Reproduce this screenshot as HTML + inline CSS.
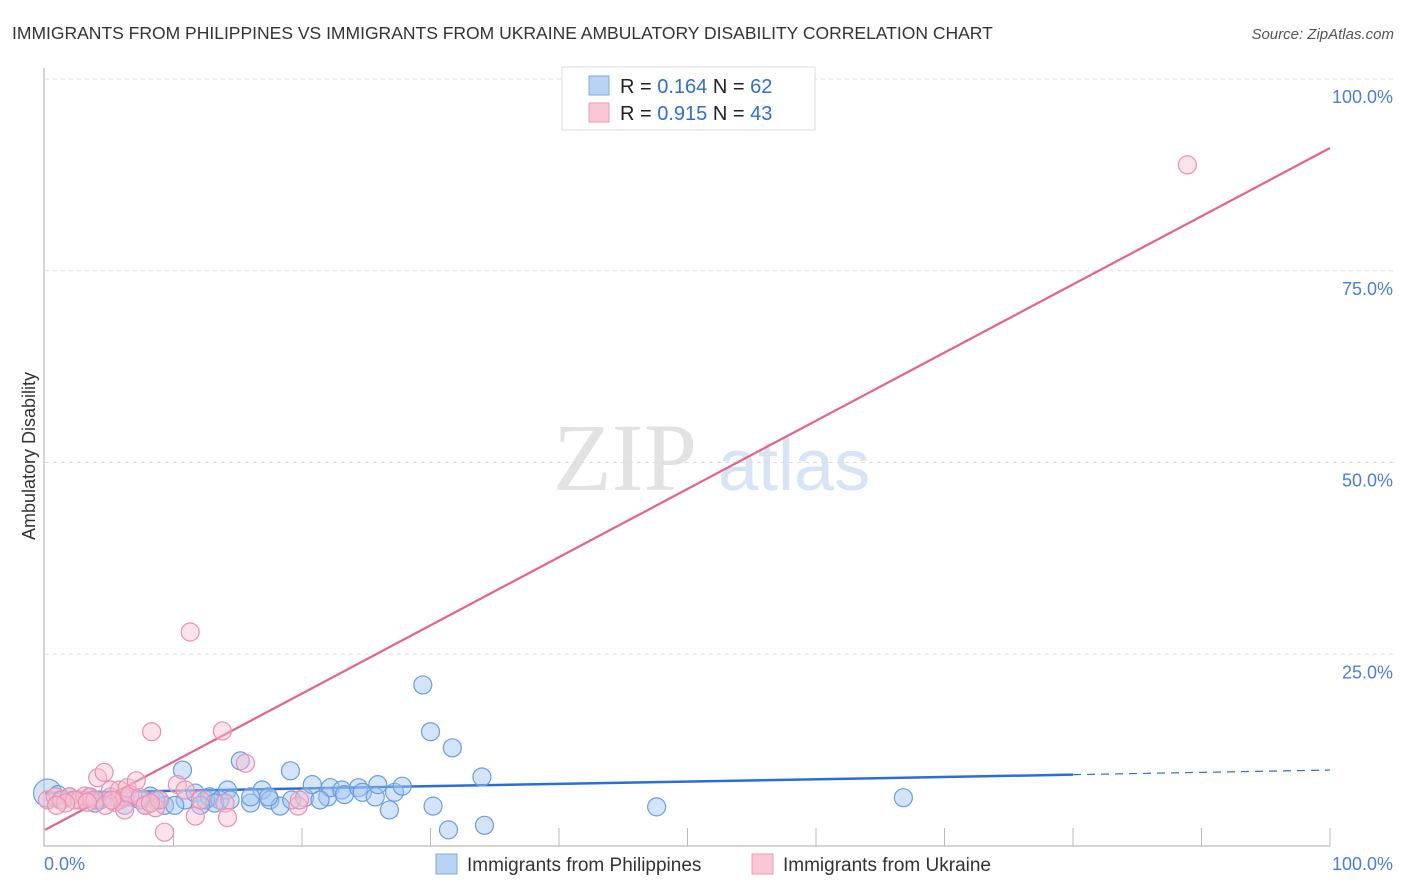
<!DOCTYPE html>
<html><head><meta charset="utf-8"><style>
body{margin:0;background:#fff;width:1406px;height:892px;overflow:hidden;font-family:"Liberation Sans",sans-serif}
svg{position:absolute;left:0;top:0}
</style></head><body>
<svg id="chart" width="1406" height="892">
<text x="12" y="39" font-size="17.5" fill="#333">IMMIGRANTS FROM PHILIPPINES VS IMMIGRANTS FROM UKRAINE AMBULATORY DISABILITY CORRELATION CHART</text>
<text x="1394" y="39" font-size="15" fill="#555" font-style="italic" text-anchor="end">Source: ZipAtlas.com</text>
<text x="35" y="456" font-size="18" fill="#333" text-anchor="middle" transform="rotate(-90 35 456)">Ambulatory Disability</text>
<g>
<text x="553" y="490" font-family="Liberation Serif,serif" font-size="96" fill="#e2e2e2">ZIP</text>
<text x="718" y="490" font-size="72" fill="#d6e4f5">atlas</text>
</g>
<g id="grid"></g><g id="axes"></g><g id="trend"></g><g id="pts"></g>
<g>
<rect x="562" y="67" width="253" height="63" fill="#fff" stroke="#ddd"/>
<rect x="589" y="76" width="20" height="19" fill="#b9d3f5" stroke="#7fa9e0"/>
<rect x="589" y="103" width="20" height="19" fill="#f9c7d6" stroke="#ef99b3"/>
<text x="620" y="93" font-size="20" fill="#222">R = <tspan fill="#2f6fd0">0.164</tspan>   N = <tspan fill="#2f6fd0">62</tspan></text>
<text x="620" y="120" font-size="20" fill="#222">R = <tspan fill="#2f6fd0">0.915</tspan>   N = <tspan fill="#2f6fd0">43</tspan></text>
</g>
<g>
<rect x="436" y="854" width="21" height="20" fill="#b9d3f5" stroke="#7fa9e0"/>
<text x="467" y="871" font-size="19" fill="#333">Immigrants from Philippines</text>
<rect x="752" y="854" width="21" height="20" fill="#f9c7d6" stroke="#ef99b3"/>
<text x="783" y="871" font-size="19" fill="#333">Immigrants from Ukraine</text>
</g>
</svg>
<script>
const blueX=[0.2,1.2,1.9,2.7,3.5,4.3,5.1,5.8,6.6,7.4,8.2,8.9,9.3,10.7,10.9,11.7,12.5,12.8,13.6,14.2,15.2,16.0,16.9,17.5,18.3,19.1,19.2,20.2,20.8,22.0,22.2,23.1,23.3,24.4,24.7,25.7,25.9,26.8,27.2,27.8,29.4,30.0,30.2,31.4,31.7,34.0,34.2,47.6,66.8,16.0,13.2,10.1,8.6,6.2,3.9,7.8,12.1,17.4,21.4,14.4,1.0];
const blueY=[6.9,6.0,6.4,6.0,6.3,6.0,6.4,6.0,6.4,6.0,6.5,6.0,5.3,9.9,6.0,6.9,6.0,6.4,6.0,7.3,11.1,5.6,7.3,6.0,5.2,9.8,6.0,6.3,8.0,6.4,7.6,7.3,6.7,7.6,7.0,6.4,8.0,4.7,7.0,7.8,21.0,14.9,5.2,2.1,12.8,9.0,2.7,5.1,6.3,6.4,5.6,5.3,6.0,5.3,5.6,5.3,5.3,6.4,6.0,6.0,6.7];
const pinkX=[0.2,0.8,1.3,1.9,2.7,3.1,3.5,4.1,4.6,5.1,5.4,5.8,6.2,6.4,6.6,7.1,7.4,7.8,8.3,8.6,8.9,9.3,10.3,11.3,10.9,11.7,12.1,13.8,14.0,14.2,15.6,19.7,19.8,88.9,2.3,1.6,3.9,4.7,6.2,5.2,0.9,8.2,3.3];
const pinkY=[6.0,6.4,6.0,6.4,6.0,6.5,6.4,8.9,9.6,7.3,5.7,7.3,6.4,7.6,6.7,8.5,6.3,5.3,14.9,5.0,6.0,1.8,8.0,27.9,7.3,3.9,6.0,15.0,5.6,3.7,10.8,5.2,6.0,88.8,6.0,5.6,6.0,5.3,4.7,6.0,5.3,5.6,5.7];
const yTicks=[25,50,75,100];
const yTickLabels=["25.0%","50.0%","75.0%","100.0%"];
const xTickLabels=["0.0%","100.0%"];
const blueTrend=[6.9,9.9]; const pinkTrend=[2.1,91.0];
const NS="http://www.w3.org/2000/svg";
const sx=v=>45+v*12.85, sy=v=>846-v*7.67;
function mk(tag,attrs,parent){const e=document.createElementNS(NS,tag);for(const k in attrs)e.setAttribute(k,attrs[k]);document.getElementById(parent).appendChild(e);return e;}
yTicks.forEach((t,i)=>{
 const g=mk('line',{x1:45,x2:1394,y1:sy(t),y2:sy(t),stroke:'#ddd','stroke-dasharray':'4,4'},'grid');
 
 
 const l=mk('text',{x:1393,y:sy(t)+24,'font-size':18,fill:'#4a7fd4','text-anchor':'end'},'grid');l.textContent=yTickLabels[i];
 
 
});
mk('line',{x1:44,x2:44,y1:68,y2:846,stroke:'#aaa'},'axes');
mk('line',{x1:44,x2:1330,y1:846,y2:846,stroke:'#aaa'},'axes');
for(let i=1;i<=10;i++){const t=mk('line',{x1:sx(i*10),x2:sx(i*10),y1:828,y2:846,stroke:'#bbb'},'axes');
 
 }
const xl0=mk('text',{x:44,y:870,'font-size':18,fill:'#4a7fd4'},'axes');xl0.textContent=xTickLabels[0];


const xl1=mk('text',{x:1393,y:870,'font-size':18,fill:'#4a7fd4','text-anchor':'end'},'axes');xl1.textContent=xTickLabels[1];


blueX.forEach((x,i)=>{const c=mk('circle',{cx:sx(x),cy:sy(blueY[i]),r:i==0?14:9,fill:'rgba(160,196,240,0.45)',stroke:'#6a9de0','stroke-width':1.2},'pts');
 
 });
pinkX.forEach((x,i)=>{const c=mk('circle',{cx:sx(x),cy:sy(pinkY[i]),r:9,fill:'rgba(248,190,208,0.45)',stroke:'#ee8fae','stroke-width':1.2},'pts');
 
 });
const bAt=x=>blueTrend[0]+(blueTrend[1]-blueTrend[0])*x/100;
const tb=mk('line',{x1:sx(0),y1:sy(bAt(0)),x2:sx(80),y2:sy(bAt(80)),stroke:'#2a6fd6','stroke-width':2.5},'trend');


const tbd=mk('line',{x1:sx(80),y1:sy(bAt(80)),x2:sx(100),y2:sy(bAt(100)),stroke:'#2a6fd6','stroke-width':1.2,'stroke-dasharray':'8,6'},'trend');


const tp=mk('line',{x1:sx(0),y1:sy(pinkTrend[0]),x2:sx(100),y2:sy(pinkTrend[1]),stroke:'#e5628f','stroke-width':2.2},'trend');


</script>
</body></html>
